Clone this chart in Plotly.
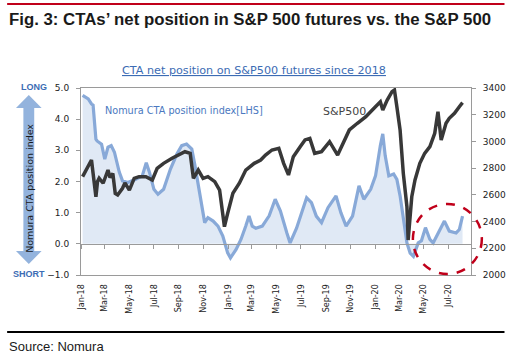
import plotly.graph_objects as go

# ---- data ----
cta_dates = ["2018-01-05","2018-01-19","2018-01-27","2018-01-31","2018-02-07","2018-02-10","2018-02-21",
             "2018-03-01","2018-03-09","2018-03-17","2018-03-25","2018-04-06","2018-04-14","2018-04-27",
             "2018-05-17","2018-06-02","2018-06-12","2018-06-20","2018-07-01","2018-07-11","2018-07-25",
             "2018-08-11","2018-08-27","2018-09-08","2018-09-20","2018-10-03","2018-10-11","2018-10-23",
             "2018-11-04","2018-11-12","2018-11-25","2018-12-07","2018-12-19","2018-12-31","2019-01-07",
             "2019-01-21","2019-02-02","2019-02-14","2019-02-22","2019-03-02","2019-03-11","2019-03-27",
             "2019-04-13","2019-04-28","2019-05-11","2019-05-27","2019-06-04","2019-06-20","2019-07-15",
             "2019-07-27","2019-08-08","2019-08-21","2019-09-06","2019-09-26","2019-10-08","2019-10-21",
             "2019-11-06","2019-11-22","2019-12-04","2019-12-21","2020-01-02","2020-01-14","2020-01-20",
             "2020-01-26","2020-02-04","2020-02-16","2020-02-24","2020-03-03","2020-03-11","2020-03-20",
             "2020-03-28","2020-04-05","2020-04-17","2020-04-25","2020-05-05","2020-05-16","2020-05-24",
             "2020-06-05","2020-06-21","2020-07-03","2020-07-20","2020-07-28","2020-08-05"]
cta_values = [4.76, 4.65, 4.49, 4.45, 3.36, 3.30, 3.20,
              2.72, 3.10, 3.15, 2.94, 2.30, 2.02, 1.97,
              2.07, 2.18, 2.60, 2.29, 1.75, 1.59, 1.75,
              2.40, 2.88, 3.15, 3.20, 3.04, 2.50, 1.54,
              0.68, 0.84, 0.73, 0.57, 0.25, -0.29, -0.45,
              -0.18, 0.14, 0.57, 0.89, 0.57, 0.50, 0.57,
              0.90, 1.43, 1.05, 0.35, 0.03, 0.50, 1.48,
              1.32, 0.89, 0.68, 1.16, 1.54, 1.00, 0.57,
              0.89, 1.86, 1.43, 1.75, 2.18, 3.15, 3.53,
              2.83, 2.18, 2.24, 2.07, 1.54, 0.89, 0.03,
              -0.30, -0.40, 0.03, 0.10, 0.52, 0.14, 0.03,
              0.35, 0.73, 0.41, 0.35, 0.46, 0.89]

spx_dates = ["2018-01-05","2018-01-27","2018-02-07","2018-02-11","2018-02-15","2018-02-25","2018-03-09",
             "2018-03-14","2018-03-21","2018-03-27","2018-04-02","2018-04-14","2018-04-20","2018-05-01",
             "2018-05-13","2018-05-25","2018-06-11","2018-06-27",
             "2018-07-09","2018-07-25","2018-08-15","2018-08-31","2018-09-16","2018-09-29","2018-10-07",
             "2018-10-19","2018-10-31","2018-11-12","2018-11-29","2018-12-11","2018-12-23","2018-12-31",
             "2019-01-13","2019-01-29","2019-02-14","2019-03-07","2019-03-23","2019-04-04","2019-04-20",
             "2019-05-07","2019-05-19","2019-05-31","2019-06-12","2019-06-29","2019-07-11","2019-07-23",
             "2019-08-04","2019-08-21","2019-09-10","2019-09-30","2019-10-13","2019-10-29","2019-11-18",
             "2019-12-09","2019-12-25","2020-01-02","2020-01-14","2020-01-20","2020-01-31","2020-02-12",
             "2020-02-18","2020-02-24","2020-03-03","2020-03-11","2020-03-20","2020-03-23","2020-04-01",
             "2020-04-09","2020-04-21","2020-05-03","2020-05-16","2020-05-28","2020-06-05","2020-06-13",
             "2020-06-25","2020-07-03","2020-07-16","2020-07-28","2020-08-05"]
spx_values = [2736, 2861, 2586, 2700, 2724, 2687, 2786,
              2730, 2760, 2610, 2599, 2649, 2690, 2636,
              2724, 2736, 2736, 2711,
              2799, 2836, 2874, 2898, 2923, 2911, 2724,
              2786, 2724, 2736, 2699, 2636, 2362, 2462,
              2612, 2687, 2786, 2836, 2861, 2898, 2936,
              2949, 2836, 2749, 2886, 2961, 3011, 3023,
              2911, 2923, 2998, 2898, 2986, 3086, 3136,
              3185, 3235, 3260, 3297, 3235, 3310, 3372,
              3385, 3260, 3086, 2761, 2511, 2262, 2586,
              2711, 2836, 2911, 2961, 3061, 3223, 3011,
              3136, 3173, 3210, 3260, 3290]

x_range = ["2018-01-01", "2020-08-26"]
left_range = [-1, 5]
right_range = [2000, 3400]

# ---- layout geometry helpers (pixel -> paper) ----
W, H = 518, 356
L, R, T, B = 81, 41, 88, 81
PW, PH = W - L - R, H - T - B


def px(x):
    return (x - L) / PW


def py(y):
    return (H - B - y) / PH


fig = go.Figure()

fig.add_trace(go.Scatter(
    x=cta_dates, y=cta_values, mode="lines", fill="tozeroy",
    fillcolor="rgba(214,226,242,0.75)",
    line=dict(color="#88a9d8", width=3.2), yaxis="y", xaxis="x",
    hoverinfo="skip", showlegend=False))

fig.add_trace(go.Scatter(
    x=spx_dates, y=spx_values, mode="lines",
    line=dict(color="#383838", width=3.5), yaxis="y2", xaxis="x",
    hoverinfo="skip", showlegend=False))

axis_col = "#9a9a9a"
tick_font = dict(family="DejaVu Sans", size=9, color="#222")

fig.update_layout(
    width=W, height=H,
    margin=dict(l=L, r=R, t=T, b=B, pad=0),
    paper_bgcolor="white", plot_bgcolor="white",
    xaxis=dict(range=x_range, type="date", tick0="2018-01-01", dtick="M2",
               tickformat="%b-%y", tickangle=-90, tickfont=dict(family="DejaVu Sans", size=8, color="#222"),
               showgrid=False, zeroline=False, showline=True, linecolor=axis_col, linewidth=1,
               mirror=True, ticks="outside", ticklen=5, tickcolor="rgba(0,0,0,0)"),
    xaxis2=dict(range=x_range, type="date", tick0="2018-01-01", dtick="M2",
                overlaying="x", anchor="free", position=py(244.3), side="bottom",
                showticklabels=False, showgrid=False, zeroline=False,
                showline=True, linecolor=axis_col, linewidth=1,
                ticks="outside", ticklen=4, tickcolor=axis_col),
    yaxis=dict(range=left_range, dtick=1, tickformat=".1f", showgrid=False, zeroline=False,
               showline=True, linecolor=axis_col, linewidth=1, ticks="outside", ticklen=4,
               tickcolor=axis_col, tickfont=tick_font, ticklabelstandoff=5),
    yaxis2=dict(range=right_range, dtick=200, overlaying="y", side="right", showgrid=False,
                zeroline=False, showline=True, linecolor=axis_col, linewidth=1,
                ticks="outside", ticklen=4, tickcolor=axis_col, tickfont=tick_font,
                ticklabelstandoff=5),
)

# invisible trace so that xaxis2 (ticks on the zero line) is drawn
fig.add_trace(go.Scatter(x=[cta_dates[0]], y=[cta_values[0]], xaxis="x2", yaxis="y",
                         mode="markers", marker=dict(opacity=0), hoverinfo="skip", showlegend=False))

# ---- decorations ----
shapes = []
shapes.append(dict(type="line", xref="paper", yref="paper", x0=px(6), x1=px(511), y0=py(4), y1=py(4),
                   line=dict(color="#c0001a", width=2)))
shapes.append(dict(type="line", xref="paper", yref="paper", x0=px(6), x1=px(511), y0=py(332), y1=py(332),
                   line=dict(color="#000000", width=2)))
ax_l, ax_r, sh_l, sh_r = 15, 41, 22.5, 33.5
cx = 28
t_tip, t_base, b_base, b_tip = 95, 108, 251, 264
pts = [(cx, t_tip), (ax_r, t_base), (sh_r, t_base), (sh_r, b_base), (ax_r, b_base), (cx, b_tip),
       (ax_l, b_base), (sh_l, b_base), (sh_l, t_base), (ax_l, t_base)]
path = "M " + " L ".join(f"{px(a):.5f},{py(b):.5f}" for a, b in pts) + " Z"
shapes.append(dict(type="path", xref="paper", yref="paper", path=path,
                   fillcolor="#93b3dd", line=dict(width=0)))
shapes.append(dict(type="circle", xref="paper", yref="paper",
                   x0=px(418), x1=px(488), y0=py(274), y1=py(204),
                   line=dict(color="#c0001a", width=2.5, dash="dash")))
fig.update_layout(shapes=shapes)

ann = []
ann.append(dict(text="<b>Fig. 3: CTAs’ net position in S&P 500 futures vs. the S&P 500</b>",
                xref="paper", yref="paper", x=px(6), y=py(19), xanchor="left", yanchor="middle",
                showarrow=False, font=dict(family="Liberation Sans", size=16.8, color="#1a1a1a")))
ann.append(dict(text="<u>CTA net position on S&P500 futures since 2018</u>",
                xref="paper", yref="paper", x=px(257), y=py(70), xanchor="center", yanchor="middle",
                showarrow=False, font=dict(family="DejaVu Sans", size=11.2, color="#3c6cb4")))
ann.append(dict(text="Source: Nomura", xref="paper", yref="paper", x=px(6), y=py(346),
                xanchor="left", yanchor="middle", showarrow=False,
                font=dict(family="Liberation Sans", size=13, color="#1a1a1a")))
ann.append(dict(text="Nomura CTA position index[LHS]", xref="paper", yref="paper", x=px(103), y=py(110),
                xanchor="left", yanchor="middle", showarrow=False,
                font=dict(family="DejaVu Sans", size=9.7, color="#4a78c0")))
ann.append(dict(text="S&P500", xref="paper", yref="paper", x=px(325), y=py(111),
                xanchor="left", yanchor="middle", showarrow=False,
                font=dict(family="DejaVu Sans", size=11, color="#444444")))
ann.append(dict(text="Nomura CTA position index", xref="paper", yref="paper", x=px(28), y=py(188),
                xanchor="center", yanchor="middle", textangle=-90, showarrow=False,
                font=dict(family="DejaVu Sans", size=9.5, color="#1a1a1a")))
ann.append(dict(text="<b>LONG</b>", xref="paper", yref="paper", x=px(33), y=py(87),
                xanchor="center", yanchor="middle", showarrow=False,
                font=dict(family="Liberation Sans", size=9, color="#3c6cb4")))
ann.append(dict(text="<b>SHORT</b>", xref="paper", yref="paper", x=px(28), y=py(274),
                xanchor="center", yanchor="middle", showarrow=False,
                font=dict(family="Liberation Sans", size=9, color="#3c6cb4")))
fig.update_layout(annotations=ann)

fig.write_html("out.html", config={"displayModeBar": False},
               post_script="document.body.style.margin='0';document.body.style.padding='0';")
